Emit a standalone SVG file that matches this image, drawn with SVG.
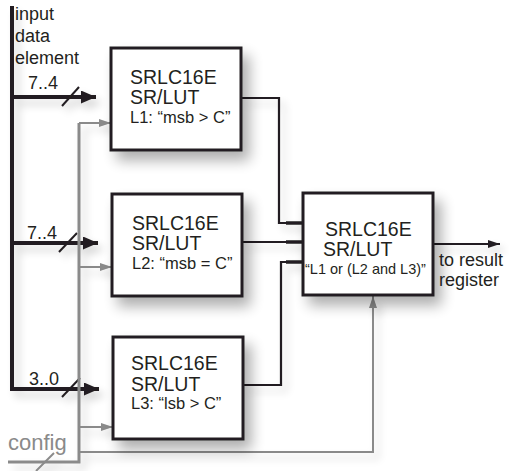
<svg xmlns="http://www.w3.org/2000/svg" width="509" height="471" viewBox="0 0 509 471">
  <style>
    .lbl { font-family: "Liberation Sans", Arial, sans-serif; fill: #231f20; }
    .big { font-size: 19.5px; }
    .mid { font-size: 16.5px; }
    .side { font-size: 18px; }
    .box { fill: #ffffff; stroke: #231f20; stroke-width: 3; }
    .bus { fill: none; stroke: #231f20; stroke-width: 4; }
    .wire { fill: none; stroke: #231f20; stroke-width: 2.2; }
    .pin { fill: none; stroke: #231f20; stroke-width: 3.5; }
    .cfg { fill: none; stroke: #8a8a8a; stroke-width: 3; }
    .cfgthin { fill: none; stroke: #8a8a8a; stroke-width: 2; }
    .slash { fill: none; stroke: #231f20; stroke-width: 2; }
  </style>
  <defs>
    <filter id="shadow" x="-20%" y="-20%" width="160%" height="160%">
      <feGaussianBlur in="SourceAlpha" stdDeviation="7"/>
      <feOffset dx="7" dy="9" result="blur"/>
      <feComponentTransfer><feFuncA type="linear" slope="0.32"/></feComponentTransfer>
      <feMerge><feMergeNode/><feMergeNode in="SourceGraphic"/></feMerge>
    </filter>
    <filter id="lineShadow" x="-10%" y="-10%" width="130%" height="130%">
      <feGaussianBlur in="SourceAlpha" stdDeviation="4"/>
      <feOffset dx="5" dy="6" result="blur"/>
      <feComponentTransfer><feFuncA type="linear" slope="0.18"/></feComponentTransfer>
      <feMerge><feMergeNode/><feMergeNode in="SourceGraphic"/></feMerge>
    </filter>
    <marker id="headBus" markerWidth="15" markerHeight="13" refX="15" refY="6.5" orient="auto" markerUnits="userSpaceOnUse">
      <path d="M0,0 L15,6.5 L0,13 Z" fill="#231f20"/>
    </marker>
    <marker id="headWire" markerWidth="12" markerHeight="8" refX="12" refY="4" orient="auto" markerUnits="userSpaceOnUse">
      <path d="M0,0 L12,4 L0,8 Z" fill="#231f20"/>
    </marker>
    <marker id="headCfg" markerWidth="12" markerHeight="8" refX="12" refY="4" orient="auto" markerUnits="userSpaceOnUse">
      <path d="M0,0 L12,4 L0,8 Z" fill="#8a8a8a"/>
    </marker>
  </defs>

  <!-- input bus labels -->
  <g id="input-label" class="lbl side">
    <text x="15" y="20">input</text>
    <text x="15" y="42">data</text>
    <text x="15" y="64">element</text>
  </g>

  <g id="connectors" filter="url(#lineShadow)">
    <!-- input data bus and its three taps -->
    <path class="bus" d="M12,6 L12,389 L98,389"/>
    <path class="bus" d="M12,97 L96,97" marker-end="url(#headBus)" />
    <path class="bus" d="M12,243 L98,243" marker-end="url(#headBus)" />
    <path class="bus" d="M80,389 L99,389" marker-end="url(#headBus)" />
    <line class="slash" x1="62" y1="106" x2="79" y2="87"/>
    <line class="slash" x1="59" y1="252" x2="77" y2="233"/>
    <line class="slash" x1="62" y1="397" x2="80" y2="378"/>

    <!-- config lines -->
    <path class="cfg" d="M8,462 L79,462 L79,123"/>
    <path class="cfgthin" d="M79,123 L111,123" marker-end="url(#headCfg)"/>
    <path class="cfgthin" d="M79,267 L112,267" marker-end="url(#headCfg)"/>
    <path class="cfgthin" d="M79,427 L113,427" marker-end="url(#headCfg)"/>
    <path class="cfgthin" d="M79,452 L373,452 L373,296" marker-end="url(#headCfg)"/>
    <line x1="36" y1="471" x2="54" y2="453" stroke="#8a8a8a" stroke-width="2"/>

    <!-- LUT outputs into the combining LUT -->
    <path class="wire" d="M241,98 L279,98 L279,223 L288,223"/>
    <path class="wire" d="M242,242 L288,242"/>
    <path class="wire" d="M243,385 L281,385 L281,262 L288,262"/>
    <path class="pin" d="M286,223 L303,223 M286,242 L303,242 M286,262 L303,262"/>

    <!-- result output -->
    <path class="wire" d="M433,244 L500,244" marker-end="url(#headWire)"/>
  </g>

  <g id="lut1">
    <rect class="box" x="111" y="48" width="130" height="102" filter="url(#shadow)"/>
    <text class="lbl big" x="130" y="84">SRLC16E</text>
    <text class="lbl big" x="130" y="104">SR/LUT</text>
    <text class="lbl mid" x="130" y="123">L1: “msb &gt; C”</text>
  </g>

  <g id="lut2">
    <rect class="box" x="112" y="194" width="130" height="102" filter="url(#shadow)"/>
    <text class="lbl big" x="132" y="230">SRLC16E</text>
    <text class="lbl big" x="132" y="250">SR/LUT</text>
    <text class="lbl mid" x="132" y="269">L2: “msb = C”</text>
  </g>

  <g id="lut3">
    <rect class="box" x="113" y="337" width="130" height="102" filter="url(#shadow)"/>
    <text class="lbl big" x="131" y="370">SRLC16E</text>
    <text class="lbl big" x="131" y="391">SR/LUT</text>
    <text class="lbl mid" x="131" y="409">L3: “lsb &gt; C”</text>
  </g>

  <g id="lut-combine">
    <rect class="box" x="303" y="193" width="130" height="102" filter="url(#shadow)"/>
    <text class="lbl big" x="325" y="236">SRLC16E</text>
    <text class="lbl big" x="323" y="256">SR/LUT</text>
    <text class="lbl" x="305" y="274" font-size="14.5">“L1 or (L2 and L3)”</text>
  </g>

  <g id="bus-labels" class="lbl side">
    <text x="28" y="89">7..4</text>
    <text x="27" y="239">7..4</text>
    <text x="29" y="385">3..0</text>
  </g>

  <g id="config-label">
    <text class="lbl" x="8" y="450" font-size="22" style="fill:#8a8a8a">config</text>
  </g>

  <g id="result-label" class="lbl side">
    <text x="439" y="266">to result</text>
    <text x="439" y="286">register</text>
  </g>
</svg>
